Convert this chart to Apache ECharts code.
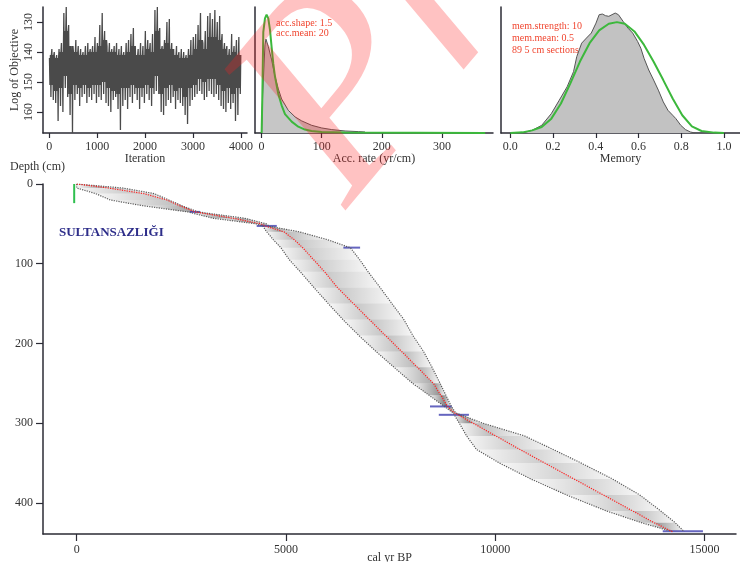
<!DOCTYPE html>
<html>
<head>
<meta charset="utf-8">
<script src="https://cdn.jsdelivr.net/npm/echarts@6/dist/echarts.min.js"></script>
<style>
  html, body { margin: 0; padding: 0; background: #fff; }
  #chart { width: 740px; height: 562px; }
</style>
</head>
<body>
<div id="chart"></div>
<script>
// --- MCMC trace (log of objective): extremes per block of 50 iterations
var traceStep = 50;
var traceTop = [142,139,140,141,139,137,127,125,131,138,140,136,138,139,140,138,137,139,138,135,
                137,131,127,133,138,137,139,138,137,139,138,140,137,136,134,132,138,139,137,138,
                133,136,137,134,126,125,132,138,136,130,129,137,139,138,140,139,140,141,139,136,
                135,134,131,127,137,133,128,127,129,126,130,128,134,137,138,139,134,138,136,135];
var traceBottom = [155,156,157,163,158,160,152,155,161,167,156,154,158,155,154,157,155,156,154,157,
                   155,156,154,157,158,160,156,155,159,166,158,156,159,155,157,154,156,159,155,157,
                   154,156,158,154,153,154,160,161,158,156,157,155,159,156,157,158,161,164,158,156,
                   155,154,153,154,156,155,153,154,155,154,156,158,159,160,157,159,157,163,161,154];
// dense core of the trace per block of 100 iterations
var traceCoreTop = [141,142,140,133,138,140,141,141,140,140,138,136,140,140,141,141,140,138,141,141,
                    139,140,133,139,137,139,141,142,142,141,139,136,139,135,135,136,139,141,140,141];
var traceCoreBottom = [151,153,152,148,154,151,152,151,152,151,151,150,152,153,154,152,152,151,152,152,
                       151,152,148,154,152,151,153,152,155,152,151,149,150,149,149,151,153,152,154,152];

// --- accumulation rate: posterior (grey) and prior (green), [yr/cm, relative density]
var accPost = [[0,0],[1.7,0.30],[5.6,0.70],[7.2,0.745],[11.1,0.687],[16.7,0.58],[22.2,0.45],[27.8,0.35],
               [33.3,0.27],[44.4,0.18],[55.6,0.128],[66.7,0.096],[83.3,0.061],[100,0.04],[116.7,0.027],
               [138.9,0.016],[161,0.011],[172,0.008],[173,0]];
var accPrior = [[0,0],[1.1,0.26],[2.8,0.80],[5.6,0.91],[8.3,0.94],[11.1,0.91],[13.9,0.82],[16.7,0.68],
                [19.4,0.55],[22.2,0.45],[27.8,0.31],[33.3,0.22],[38.9,0.15],[50,0.09],[61,0.05],
                [72,0.027],[83,0.016],[100,0.008],[139,0.003],[372,0]];

// --- memory: posterior (grey) and prior (green)
var memPost = [[0.057,0],[0.102,0.021],[0.147,0.061],[0.192,0.154],[0.229,0.26],[0.266,0.367],[0.296,0.487],
               [0.311,0.606],[0.334,0.713],[0.356,0.753],[0.379,0.793],[0.401,0.872],[0.416,0.939],[0.431,0.944],
               [0.446,0.931],[0.461,0.926],[0.476,0.939],[0.491,0.952],[0.506,0.939],[0.528,0.886],[0.551,0.832],
               [0.573,0.793],[0.596,0.726],[0.611,0.673],[0.626,0.593],[0.648,0.5],[0.671,0.42],[0.693,0.34],
               [0.716,0.247],[0.738,0.18],[0.760,0.141],[0.775,0.114],[0.798,0.061],[0.820,0.027],[0.843,0.008],[0.865,0]];
var memPrior = [[0,0],[0.057,0.005],[0.102,0.021],[0.147,0.048],[0.192,0.114],[0.237,0.234],[0.281,0.394],
                [0.326,0.567],[0.371,0.713],[0.416,0.814],[0.461,0.867],[0.499,0.880],[0.536,0.867],[0.581,0.806],
                [0.626,0.699],[0.671,0.566],[0.716,0.420],[0.760,0.274],[0.805,0.141],[0.850,0.053],[0.895,0.016],
                [0.955,0.003],[1.0,0]];

// --- age-depth model: depth (cm), 95% range and mean (cal yr BP)
var depths   = [0, 5, 12, 20, 27, 35, 43, 50, 53, 60, 70, 80, 95, 110, 130, 150, 170, 190, 210, 230, 250, 265, 279, 287, 300, 316, 333, 350, 370, 390, 410, 425, 436];
var ageLower = [0, 0, 450, 800, 1550, 2650, 3262, 4290, 4450, 4540, 4700, 4880, 5080, 5340, 5670, 6010, 6360, 6740, 7150, 7584, 8023, 8420, 8780, 8990, 9140, 9314, 9553, 10100, 10850, 11700, 12650, 13500, 14230];
var ageMean  = [0, 750, 1600, 2150, 2450, 2830, 3740, 4400, 4520, 4950, 5200, 5400, 5660, 5920, 6230, 6610, 6990, 7375, 7760, 8140, 8520, 8700, 8860, 9020, 9470, 10010, 10590, 11180, 11880, 12580, 13280, 13800, 14230];
var ageUpper = [0, 1100, 1850, 2200, 2500, 2900, 4017, 4530, 4600, 5320, 6000, 6540, 6760, 6960, 7250, 7530, 7815, 8030, 8285, 8490, 8680, 8820, 8950, 9050, 9700, 10700, 11383, 12050, 12800, 13450, 13950, 14300, 14512];

// calibrated dates: depth and age range
var dateDepths = [35, 52.6, 79.8, 279, 289.5, 435.7];
var dateMin    = [2700, 4300, 6370, 8440, 8650, 14000];
var dateMax    = [2950, 4780, 6770, 8960, 9370, 14960];
// surface (green)
var surfaceAge = -60;
var surfaceDepths = [0, 24];

// tick labels
var iterTicks  = [0, 1000, 2000, 3000, 4000];
var logTicks   = [130, 140, 150, 160];
var accTicks   = [0, 100, 200, 300];
var memTicks   = [0, 0.2, 0.4, 0.6, 0.8, 1.0];
var ageTicks   = [0, 5000, 10000, 15000];
var depthTicks = [0, 100, 200, 300, 400];

var serif = "'Liberation Serif', 'DejaVu Serif', serif";
var axisColor = '#2b2b35';
var txtRed = '#f0452f';
var green = '#3cb83c';

// build trace zigzag: extremes plus dense core swings
var traceData = [];
traceTop.forEach(function (v, i) {
  var k = Math.floor(i / 2);
  var x0 = i * traceStep;
  traceData.push([x0 + 5, v]);
  traceData.push([x0 + 15, traceCoreBottom[k]]);
  traceData.push([x0 + 25, traceCoreTop[k]]);
  traceData.push([x0 + 35, traceBottom[i]]);
  traceData.push([x0 + 45, traceCoreTop[k]]);
});

var bandData = [];
for (var i = 0; i < depths.length - 1; i++) {
  bandData.push([ageLower[i], ageMean[i], ageUpper[i], depths[i],
                 ageLower[i + 1], ageMean[i + 1], ageUpper[i + 1], depths[i + 1]]);
}
var dateData = dateDepths.map(function (d, i) { return [dateMin[i], dateMax[i], d]; });

function plainNum(v) { return String(v); }

function xAx(grid, min, max, ticks, name, fmt, tickLen, margin, gap) {
  return {
    gridIndex: grid, type: 'value', min: min, max: max,
    axisLine: { show: true, onZero: false, lineStyle: { color: axisColor, width: 1.5 } },
    axisTick: { show: true, customValues: ticks, length: tickLen, lineStyle: { color: axisColor, width: 1.2 } },
    axisLabel: { customValues: ticks, fontFamily: serif, fontSize: 12, color: '#333', margin: margin,
                 formatter: fmt || plainNum },
    splitLine: { show: false },
    name: name, nameLocation: 'middle', nameGap: gap, nameMoveOverlap: false,
    nameTextStyle: { fontFamily: serif, fontSize: 12, color: '#333' }
  };
}

function plainY(grid) {
  return {
    gridIndex: grid, type: 'value', min: 0, max: 1,
    axisLine: { show: true, onZero: false, lineStyle: { color: axisColor, width: 1.5 } },
    axisTick: { show: false }, axisLabel: { show: false }, splitLine: { show: false }
  };
}

var chart = echarts.init(document.getElementById('chart'), null, { renderer: 'canvas' });

var option = {
  animation: false,
  backgroundColor: '#fff',
  grid: [
    { left: 43, top: 7, width: 204, height: 126, outerBoundsMode: 'none', containLabel: false },
    { left: 255, top: 7, width: 238, height: 126, outerBoundsMode: 'none', containLabel: false },
    { left: 501, top: 7, width: 239, height: 126, outerBoundsMode: 'none', containLabel: false },
    { left: 43, top: 184, width: 693, height: 350, outerBoundsMode: 'none', containLabel: false }
  ],
  xAxis: [
    xAx(0, -130, 4125, iterTicks, 'Iteration', null, 5, 8, 20),
    xAx(1, -11, 385, accTicks, 'Acc. rate (yr/cm)', null, 5, 8, 20),
    xAx(2, -0.0436, 1.0752, memTicks, 'Memory', function (v) { return v.toFixed(1); }, 5, 8, 20),
    xAx(3, -805, 15750, ageTicks, 'cal yr BP', null, 7, 10, 18)
  ],
  yAxis: [
    {
      gridIndex: 0, type: 'value', inverse: true, min: 125, max: 167,
      axisLine: { show: true, onZero: false, lineStyle: { color: axisColor, width: 1.5 } },
      axisTick: { show: true, customValues: logTicks, length: 6, lineStyle: { color: axisColor, width: 1.2 } },
      axisLabel: { customValues: logTicks, rotate: 90, fontFamily: serif, fontSize: 12, color: '#333', margin: 8 },
      splitLine: { show: false },
      name: 'Log of Objective', nameLocation: 'middle', nameGap: 22,
      nameTextStyle: { fontFamily: serif, fontSize: 12, color: '#333' }
    },
    plainY(1),
    plainY(2),
    {
      gridIndex: 3, type: 'value', inverse: true, min: 0, max: 439,
      axisLine: { show: true, onZero: false, lineStyle: { color: axisColor, width: 1.5 } },
      axisTick: { show: true, customValues: depthTicks, length: 7, lineStyle: { color: axisColor, width: 1.2 } },
      axisLabel: { customValues: depthTicks, fontFamily: serif, fontSize: 12, color: '#333', margin: 10 },
      splitLine: { show: false }
    }
  ],
  graphic: [
    { type: 'text', left: 10, top: 161, style: { text: 'Depth (cm)', font: '12px ' + serif, fill: '#333' } },
    { type: 'text', left: 59, top: 226, style: { text: 'SULTANSAZLIĞI', font: 'bold 13px ' + serif, fill: '#2e2e8a' } },
    { type: 'text', left: 276, top: 18, style: { text: 'acc.shape: 1.5\nacc.mean: 20', font: '10px ' + serif, fill: txtRed, lineHeight: 10 } },
    { type: 'text', left: 512, top: 21, style: { text: 'mem.strength: 10\nmem.mean: 0.5\n89 5 cm sections', font: '10px ' + serif, fill: txtRed, lineHeight: 11.7 } },
    // watermark
    { type: 'text', x: 290, y: 162, rotation: 50 * Math.PI / 180, z: 100, silent: true,
      style: { text: 'Pr', font: 'italic 280px ' + serif, fill: 'rgba(255,30,30,0.27)',
               align: 'left', verticalAlign: 'middle' } }
  ],
  series: [
    {
      type: 'line', xAxisIndex: 0, yAxisIndex: 0, data: traceData, symbol: 'none',
      lineStyle: { color: '#4a4a4a', width: 1.3 }, silent: true
    },
    {
      type: 'line', xAxisIndex: 1, yAxisIndex: 1, data: accPost, symbol: 'none',
      lineStyle: { color: '#555', width: 1 }, areaStyle: { color: '#c6c6c6', opacity: 1 }
    },
    {
      type: 'line', xAxisIndex: 1, yAxisIndex: 1, data: accPrior, symbol: 'none',
      lineStyle: { color: green, width: 2 }
    },
    {
      type: 'line', xAxisIndex: 2, yAxisIndex: 2, data: memPost, symbol: 'none',
      lineStyle: { color: '#555', width: 1 }, areaStyle: { color: '#c2c2c2', opacity: 1 }
    },
    {
      type: 'line', xAxisIndex: 2, yAxisIndex: 2, data: memPrior, symbol: 'none',
      lineStyle: { color: green, width: 2 }
    },
    {
      // grey-scale probability band
      type: 'custom', xAxisIndex: 3, yAxisIndex: 3, data: bandData, silent: true,
      encode: { x: [0, 1, 2, 4, 5, 6], y: [3, 7] },
      renderItem: function (params, api) {
        var L0 = api.coord([api.value(0), api.value(3)]);
        var M0 = api.coord([api.value(1), api.value(3)]);
        var U0 = api.coord([api.value(2), api.value(3)]);
        var L1 = api.coord([api.value(4), api.value(7)]);
        var M1 = api.coord([api.value(5), api.value(7)]);
        var U1 = api.coord([api.value(6), api.value(7)]);
        var w = (api.value(2) - api.value(0) + api.value(6) - api.value(4)) / 2;
        var a = Math.min(0.55, 0.1 + 200 / (w + 60));
        var c0 = 'rgba(0,0,0,0.03)', c1 = 'rgba(0,0,0,' + a.toFixed(3) + ')';
        return {
          type: 'group',
          children: [
            { type: 'polygon', shape: { points: [L0, M0, M1, L1] },
              style: { fill: new echarts.graphic.LinearGradient(0, 0, 1, 0, [{ offset: 0, color: c0 }, { offset: 1, color: c1 }]) } },
            { type: 'polygon', shape: { points: [M0, U0, U1, M1] },
              style: { fill: new echarts.graphic.LinearGradient(0, 0, 1, 0, [{ offset: 0, color: c1 }, { offset: 1, color: c0 }]) } }
          ]
        };
      }
    },
    {
      type: 'line', xAxisIndex: 3, yAxisIndex: 3, symbol: 'none',
      data: depths.map(function (d, i) { return [ageLower[i], d]; }),
      lineStyle: { color: '#5a5a5a', width: 1.2, type: 'dotted' }
    },
    {
      type: 'line', xAxisIndex: 3, yAxisIndex: 3, symbol: 'none',
      data: depths.map(function (d, i) { return [ageUpper[i], d]; }),
      lineStyle: { color: '#5a5a5a', width: 1.2, type: 'dotted' }
    },
    {
      type: 'line', xAxisIndex: 3, yAxisIndex: 3, symbol: 'none',
      data: depths.map(function (d, i) { return [ageMean[i], d]; }),
      lineStyle: { color: '#ff2020', width: 1.2, type: 'dotted' }
    },
    {
      // dates
      type: 'custom', xAxisIndex: 3, yAxisIndex: 3, data: dateData, silent: true,
      encode: { x: [0, 1], y: 2 },
      renderItem: function (params, api) {
        var p0 = api.coord([api.value(0), api.value(2)]);
        var p1 = api.coord([api.value(1), api.value(2)]);
        return { type: 'line', shape: { x1: p0[0], y1: p0[1], x2: p1[0], y2: p1[1] },
                 style: { stroke: 'rgba(50,50,170,0.75)', lineWidth: 2 } };
      }
    },
    {
      type: 'line', xAxisIndex: 3, yAxisIndex: 3, symbol: 'none',
      data: surfaceDepths.map(function (d) { return [surfaceAge, d]; }),
      lineStyle: { color: '#2fbf4f', width: 2 }
    }
  ]
};

chart.setOption(option);
</script>
</body>
</html>
